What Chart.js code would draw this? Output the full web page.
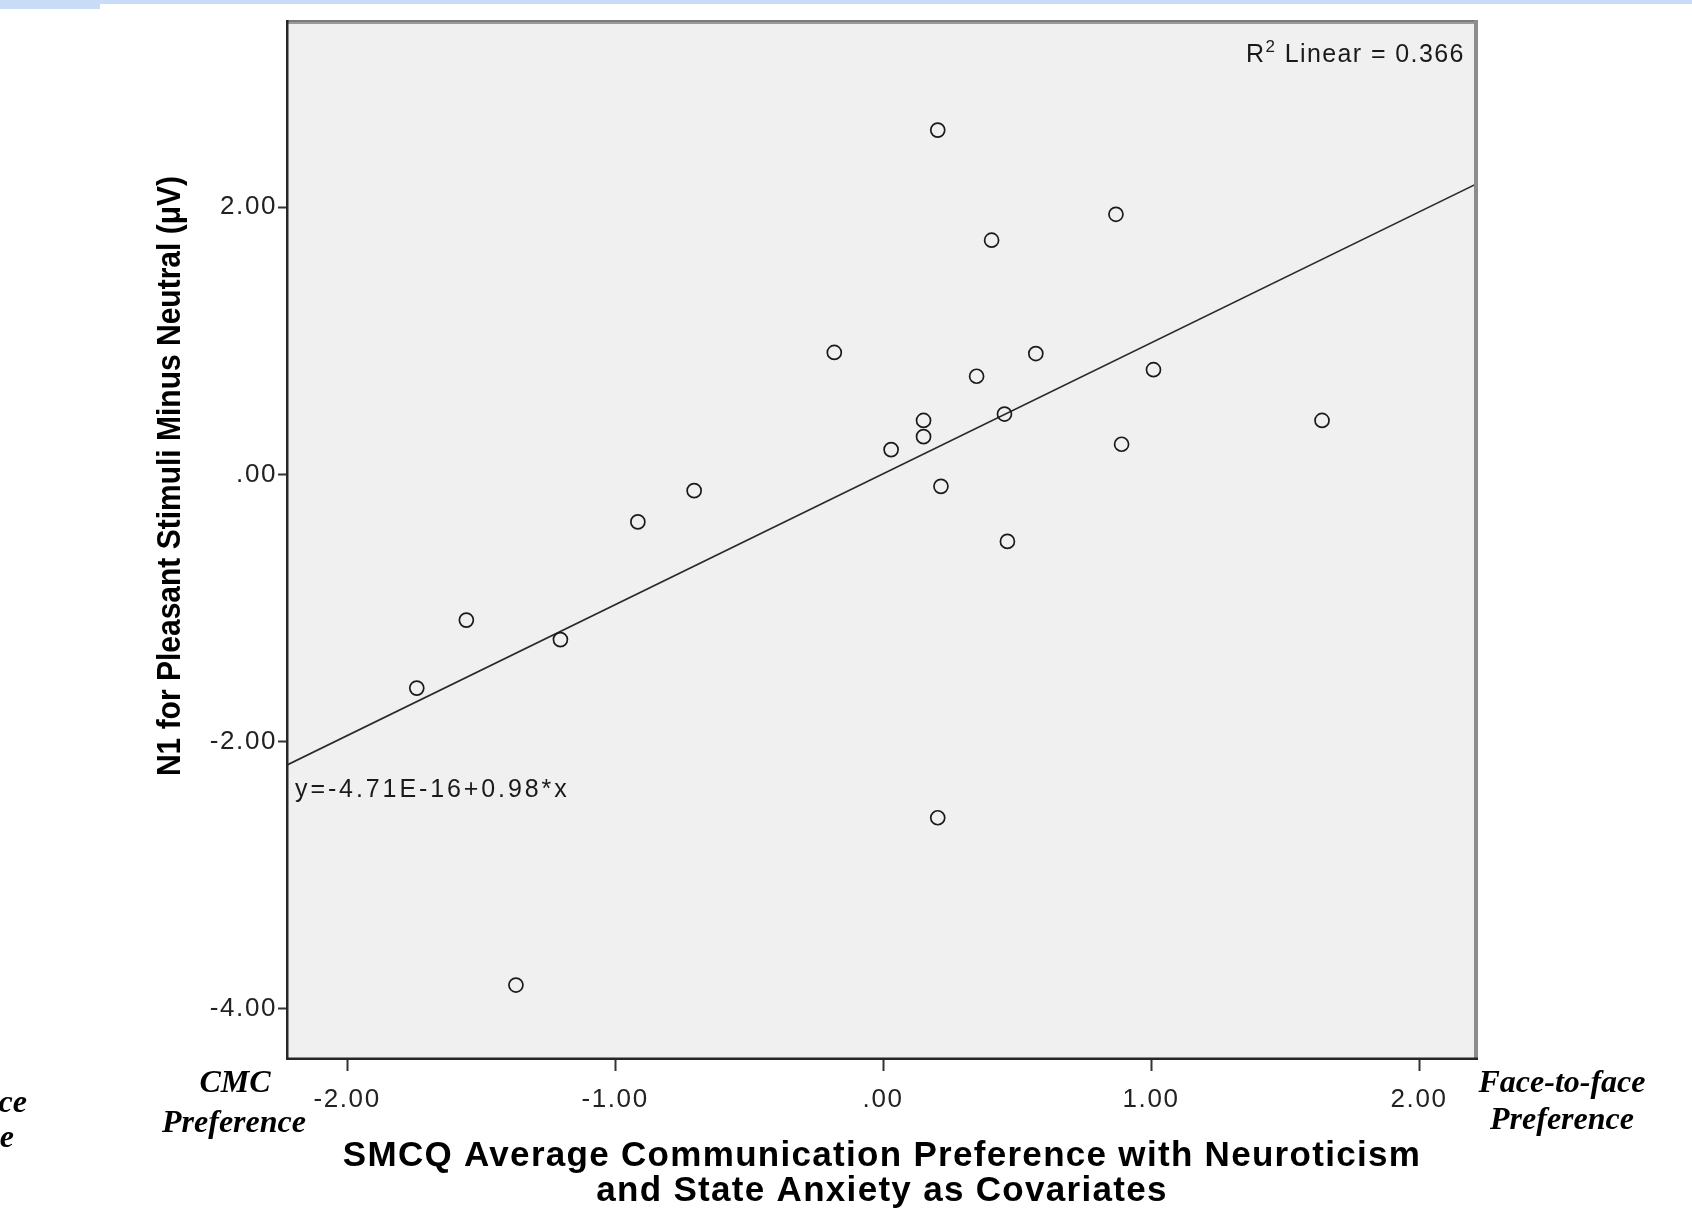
<!DOCTYPE html>
<html><head><meta charset="utf-8">
<script src="https://cdn.jsdelivr.net/npm/chart.js@4.4.1/dist/chart.umd.min.js"></script>
<style>html,body{margin:0;padding:0;background:#fff;}canvas{display:block;}</style>
</head><body>
<canvas id="c" width="1692" height="1208"></canvas>
<script>
// ---- data ----
const xValues = [0.204, 0.869, 0.405, -0.182, 0.570, 0.349, 1.009, 0.151, 0.453, 1.638, 0.151, 0.030, 0.890, 0.216, -0.705, -0.915, 0.464, -1.555, -1.204, -1.740, 0.204, -1.370];
const yValues = [2.577, 1.947, 1.753, 0.913, 0.905, 0.735, 0.784, 0.404, 0.452, 0.404, 0.283, 0.186, 0.226, -0.089, -0.121, -0.355, -0.501, -1.090, -1.236, -1.599, -2.569, -3.821];
const fitX = [-2.23, 2.22];
const fitY = [-2.18, 2.18];
const xRange = [-2.228, 2.22];
const yRange = [-4.382, 3.401];
const xTicks = [-2, -1, 0, 1, 2];
const xTickLabels = ['-2.00', '-1.00', '.00', '1.00', '2.00'];
const yTicks = [-4, -2, 0, 2];
const yTickLabels = ['-4.00', '-2.00', '.00', '2.00'];
const xTitleLines = ['SMCQ Average Communication Preference with Neuroticism', 'and State Anxiety as Covariates'];
const yTitle = 'N1 for Pleasant Stimuli Minus Neutral (\u03BCV)';
const r2Label = ['R', '2', ' Linear = 0.366'];
const equationLabel = 'y=-4.71E-16+0.98*x';
const leftEndLabels = ['CMC', 'Preference'];
const rightEndLabels = ['Face-to-face', 'Preference'];

const SANS = '"Liberation Sans", Arial, sans-serif';
const SERIF = '"Liberation Serif", "Times New Roman", serif';

const decor = {
  id: 'decor',
  beforeDraw(chart) {
    const { ctx, chartArea: a } = chart;
    ctx.save();
    ctx.fillStyle = '#ffffff';
    ctx.fillRect(0, 0, chart.width, chart.height);
    ctx.fillStyle = '#c8dbf7';
    ctx.fillRect(0, 0, chart.width, 4);
    ctx.fillRect(0, 0, 100, 9);
    ctx.fillStyle = '#f0f0f0';
    ctx.fillRect(a.left, a.top, a.right - a.left, a.bottom - a.top);
    ctx.restore();
    ctx.letterSpacing = '1.6px';
  },
  afterDraw(chart) {
    const { ctx, chartArea: a } = chart;
    ctx.save();
    // frame
    ctx.fillStyle = '#9a9a9a';
    ctx.fillRect(a.left, a.top, a.right - a.left, 4);
    ctx.fillStyle = '#7a7a7a';
    ctx.fillRect(a.left, a.top, a.right - a.left, 2);
    ctx.fillStyle = '#8c8c8c';
    ctx.fillRect(a.right - 4, a.top, 4, a.bottom - a.top);
    ctx.fillStyle = '#262626';
    ctx.fillRect(a.left, a.top, 2.5, a.bottom - a.top);
    ctx.fillRect(a.left, a.bottom - 2.5, a.right - a.left, 2.5);

    ctx.fillStyle = '#1a1a1a';
    // R^2 label
    ctx.letterSpacing = '1.4px';
    ctx.textBaseline = 'alphabetic';
    ctx.textAlign = 'left';
    ctx.font = '25px ' + SANS;
    let x = 1246, yb = 62;
    ctx.fillText(r2Label[0], x, yb);
    x += ctx.measureText(r2Label[0]).width;
    ctx.font = '17px ' + SANS;
    ctx.fillText(r2Label[1], x, yb - 10);
    x += ctx.measureText(r2Label[1]).width;
    ctx.font = '25px ' + SANS;
    ctx.fillText(r2Label[2], x, yb);

    // equation
    ctx.letterSpacing = '2.9px';
    ctx.font = '25px ' + SANS;
    ctx.fillText(equationLabel, 295, 797);

    // x title
    ctx.letterSpacing = '1.3px';
    ctx.font = 'bold 35px ' + SANS;
    ctx.textAlign = 'center';
    const cx = (a.left + a.right) / 2;
    ctx.fillStyle = '#000';
    ctx.fillText(xTitleLines[0], cx, 1166);
    ctx.fillText(xTitleLines[1], cx, 1201);

    // y title
    ctx.save();
    ctx.letterSpacing = '0px';
    ctx.translate(171, 476);
    ctx.scale(1.1, 1);
    ctx.rotate(-Math.PI / 2);
    ctx.font = 'bold 30px ' + SANS;
    ctx.textAlign = 'center';
    ctx.textBaseline = 'middle';
    ctx.fillText(yTitle, 0, 0);
    ctx.restore();

    // end labels
    ctx.letterSpacing = '0px';
    ctx.font = 'italic bold 32px ' + SERIF;
    ctx.textAlign = 'center';
    ctx.fillText(leftEndLabels[0], 235, 1092);
    ctx.fillText(leftEndLabels[1], 234, 1132);
    ctx.fillText(rightEndLabels[0], 1562, 1092);
    ctx.fillText(rightEndLabels[1], 1562, 1129);
    ctx.textAlign = 'right';
    ctx.fillText(rightEndLabels[0], 27, 1112);
    ctx.fillText(rightEndLabels[1], 14, 1147);
    ctx.restore();
  }
};

new Chart(document.getElementById('c'), {
  type: 'scatter',
  data: {
    datasets: [
      {
        label: 'points',
        data: xValues.map((v, i) => ({ x: v, y: yValues[i] })),
        pointStyle: 'circle',
        pointRadius: 7,
        pointHoverRadius: 7,
        borderWidth: 1.7,
        borderColor: '#1a1a1a',
        backgroundColor: 'rgba(0,0,0,0)',
        order: 1
      },
      {
        label: 'fit',
        type: 'line',
        data: fitX.map((v, i) => ({ x: v, y: fitY[i] })),
        showLine: true,
        borderColor: '#2a2a2a',
        borderWidth: 1.6,
        pointRadius: 0,
        fill: false,
        tension: 0,
        order: 2
      }
    ]
  },
  options: {
    responsive: false,
    animation: false,
    devicePixelRatio: 1,
    layout: { padding: { top: 20, right: 214, left: 0, bottom: 0 } },
    plugins: { legend: { display: false }, tooltip: { enabled: false }, title: { display: false } },
    scales: {
      x: {
        type: 'linear',
        min: xRange[0], max: xRange[1],
        afterBuildTicks: s => { s.ticks = xTicks.map(v => ({ value: v })); },
        afterFit: s => { s.height = 148; },
        border: { display: false },
        grid: { drawOnChartArea: false, drawTicks: true, tickLength: 11, tickWidth: 2, color: '#333' },
        ticks: {
          padding: 13,
          color: '#222',
          font: { family: SANS, size: 26 },
          maxRotation: 0,
          autoSkip: false,
          callback: (v) => { const i = xTicks.indexOf(v); return i >= 0 ? xTickLabels[i] : ''; }
        }
      },
      y: {
        type: 'linear',
        min: yRange[0], max: yRange[1],
        afterBuildTicks: s => { s.ticks = yTicks.map(v => ({ value: v })); },
        afterFit: s => { s.width = 286; },
        border: { display: false },
        grid: { drawOnChartArea: false, drawTicks: true, tickLength: 8, tickWidth: 2, color: '#333' },
        ticks: {
          padding: 1,
          color: '#222',
          font: { family: SANS, size: 26 },
          autoSkip: false,
          callback: (v) => { const i = yTicks.indexOf(v); return i >= 0 ? yTickLabels[i] : ''; }
        }
      }
    }
  },
  plugins: [decor]
});
</script>
</body></html>
